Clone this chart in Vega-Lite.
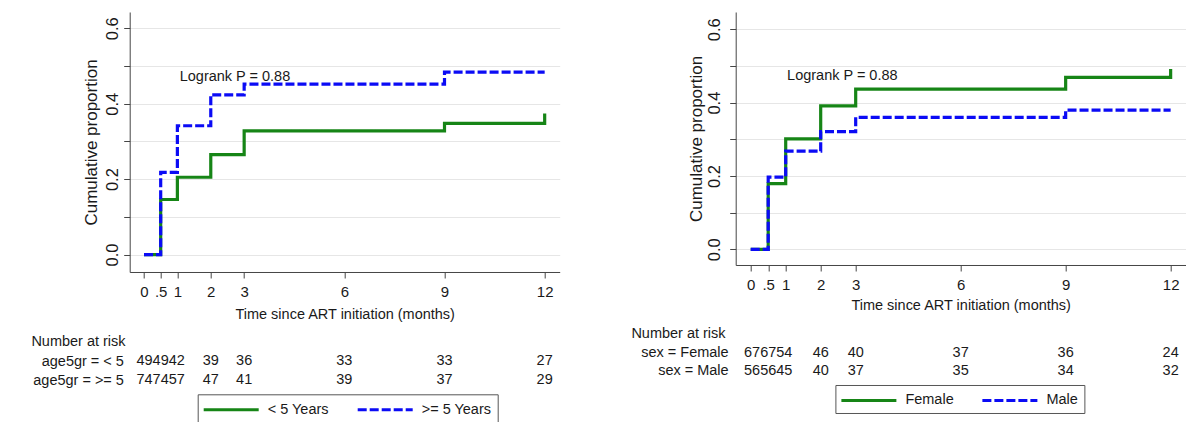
{
  "$schema": "https://vega.github.io/schema/vega-lite/v6.json",
  "background": "white",
  "padding": {"left": 30.7, "top": 12, "right": 0, "bottom": 0},
  "config": {
    "font": "Liberation Sans",
    "view": {"stroke": null},
    "axis": {
      "labelFont": "Liberation Sans",
      "titleFont": "Liberation Sans",
      "labelColor": "#1a1a1a",
      "titleColor": "#1a1a1a",
      "titleFontWeight": "normal",
      "labelFontSize": 15,
      "titleFontSize": 14.5,
      "domainColor": "#444444",
      "tickColor": "#444444",
      "gridColor": "#e6e6e6",
      "labelFlush": false,
      "labelOverlap": false
    },
    "axisY": {
      "labelFontSize": 16.5,
      "titleFontSize": 17
    },
    "title": {"font": "Liberation Sans", "fontWeight": "normal", "fontSize": 14.5, "color": "#1a1a1a"},
    "legend": {
      "labelFont": "Liberation Sans",
      "labelFontSize": 14.5,
      "labelColor": "#1a1a1a"
    }
  },
  "datasets": {
    "curves": [
      {"panel": "age", "grp": "< 5 Years", "t": 0, "p": 0},
      {"panel": "age", "grp": "< 5 Years", "t": 0.5, "p": 0.146},
      {"panel": "age", "grp": "< 5 Years", "t": 1, "p": 0.205},
      {"panel": "age", "grp": "< 5 Years", "t": 2, "p": 0.265},
      {"panel": "age", "grp": "< 5 Years", "t": 3, "p": 0.328},
      {"panel": "age", "grp": "< 5 Years", "t": 9, "p": 0.348},
      {"panel": "age", "grp": "< 5 Years", "t": 12, "p": 0.374},
      {"panel": "age", "grp": ">= 5 Years", "t": 0, "p": 0},
      {"panel": "age", "grp": ">= 5 Years", "t": 0.5, "p": 0.218},
      {"panel": "age", "grp": ">= 5 Years", "t": 1, "p": 0.3415},
      {"panel": "age", "grp": ">= 5 Years", "t": 2, "p": 0.4235},
      {"panel": "age", "grp": ">= 5 Years", "t": 3, "p": 0.452},
      {"panel": "age", "grp": ">= 5 Years", "t": 9, "p": 0.4835},
      {"panel": "age", "grp": ">= 5 Years", "t": 12, "p": 0.4835},
      {"panel": "sex", "grp": "Female", "t": 0, "p": 0},
      {"panel": "sex", "grp": "Female", "t": 0.5, "p": 0.179},
      {"panel": "sex", "grp": "Female", "t": 1, "p": 0.301},
      {"panel": "sex", "grp": "Female", "t": 2, "p": 0.391},
      {"panel": "sex", "grp": "Female", "t": 3, "p": 0.437},
      {"panel": "sex", "grp": "Female", "t": 9, "p": 0.469},
      {"panel": "sex", "grp": "Female", "t": 12, "p": 0.492},
      {"panel": "sex", "grp": "Male", "t": 0, "p": 0},
      {"panel": "sex", "grp": "Male", "t": 0.5, "p": 0.197},
      {"panel": "sex", "grp": "Male", "t": 1, "p": 0.2675},
      {"panel": "sex", "grp": "Male", "t": 2, "p": 0.321},
      {"panel": "sex", "grp": "Male", "t": 3, "p": 0.36},
      {"panel": "sex", "grp": "Male", "t": 9, "p": 0.3795},
      {"panel": "sex", "grp": "Male", "t": 12, "p": 0.3795}
    ],
    "notes": [
      {"panel": "age", "t": 1.07, "p": 0.4715, "label": "Logrank P = 0.88"},
      {"panel": "sex", "t": 1.04, "p": 0.4726, "label": "Logrank P = 0.88"}
    ],
    "risk": [
      {"panel": "age", "row": "age5gr = < 5", "t": 0.5, "n": 494942},
      {"panel": "age", "row": "age5gr = < 5", "t": 2, "n": 39},
      {"panel": "age", "row": "age5gr = < 5", "t": 3, "n": 36},
      {"panel": "age", "row": "age5gr = < 5", "t": 6, "n": 33},
      {"panel": "age", "row": "age5gr = < 5", "t": 9, "n": 33},
      {"panel": "age", "row": "age5gr = < 5", "t": 12, "n": 27},
      {"panel": "age", "row": "age5gr = >= 5", "t": 0.5, "n": 747457},
      {"panel": "age", "row": "age5gr = >= 5", "t": 2, "n": 47},
      {"panel": "age", "row": "age5gr = >= 5", "t": 3, "n": 41},
      {"panel": "age", "row": "age5gr = >= 5", "t": 6, "n": 39},
      {"panel": "age", "row": "age5gr = >= 5", "t": 9, "n": 37},
      {"panel": "age", "row": "age5gr = >= 5", "t": 12, "n": 29},
      {"panel": "sex", "row": "sex = Female", "t": 0.5, "n": 676754},
      {"panel": "sex", "row": "sex = Female", "t": 2, "n": 46},
      {"panel": "sex", "row": "sex = Female", "t": 3, "n": 40},
      {"panel": "sex", "row": "sex = Female", "t": 6, "n": 37},
      {"panel": "sex", "row": "sex = Female", "t": 9, "n": 36},
      {"panel": "sex", "row": "sex = Female", "t": 12, "n": 24},
      {"panel": "sex", "row": "sex = Male", "t": 0.5, "n": 565645},
      {"panel": "sex", "row": "sex = Male", "t": 2, "n": 40},
      {"panel": "sex", "row": "sex = Male", "t": 3, "n": 37},
      {"panel": "sex", "row": "sex = Male", "t": 6, "n": 35},
      {"panel": "sex", "row": "sex = Male", "t": 9, "n": 34},
      {"panel": "sex", "row": "sex = Male", "t": 12, "n": 32}
    ]
  },
  "spacing": 71,
  "resolve": {
    "scale": {"color": "independent", "strokeDash": "independent", "x": "independent", "y": "independent"},
    "legend": {"color": "independent", "strokeDash": "independent"}
  },
  "hconcat": [
    {
      "spacing": 80,
      "bounds": "flush",
      "resolve": {
        "scale": {"x": "independent", "y": "independent"},
        "legend": {"color": "independent", "strokeDash": "independent"}
      },
      "vconcat": [
        {
          "width": 430,
          "height": 260,
          "layer": [
            {
              "data": {"name": "notes"},
              "transform": [{"filter": "datum.panel == 'age'"}],
              "mark": {"type": "text", "align": "left", "baseline": "middle", "fontSize": 14.5, "color": "#1a1a1a"},
              "encoding": {
                "x": {"field": "t", "type": "quantitative", "scale": {"domain": [-0.428, 12.45], "nice": false, "zero": false}},
                "y": {"field": "p", "type": "quantitative", "scale": {"domain": [-0.0462, 0.643], "nice": false, "zero": false}},
                "text": {"field": "label"}
              }
            },
            {
              "data": {"name": "curves"},
              "transform": [{"filter": "datum.panel == 'age'"}],
              "mark": {"type": "line", "interpolate": "step-after", "strokeWidth": 3.2},
              "encoding": {
                "x": {
                  "field": "t", "type": "quantitative",
                  "scale": {"domain": [-0.428, 12.45], "nice": false, "zero": false},
                  "axis": {
                    "values": [0, 0.5, 1, 2, 3, 6, 9, 12],
                    "labelExpr": "datum.value == 0.5 ? '.5' : format(datum.value, 'd')",
                    "tickSize": 6, "labelPadding": 7, "grid": false,
                    "title": "Time since ART initiation (months)",
                    "titleY": 42.6, "titleBaseline": "middle"
                  }
                },
                "y": {
                  "field": "p", "type": "quantitative",
                  "scale": {"domain": [-0.0462, 0.643], "nice": false, "zero": false},
                  "axis": {
                    "values": [0, 0.1, 0.2, 0.3, 0.4, 0.5, 0.6],
                    "labelExpr": "round(datum.value*10)%2==0 ? format(datum.value,'.1f') : ''",
                    "labelAngle": 270, "labelAlign": "center", "labelBaseline": "middle",
                    "labelPadding": 11, "tickSize": 6, "grid": true,
                    "title": "Cumulative proportion",
                    "titleX": -38.1, "titleY": 130, "titleAngle": 270,
                    "titleAlign": "center", "titleBaseline": "middle"
                  }
                },
                "color": {
                  "field": "grp", "type": "nominal",
                  "scale": {"domain": ["< 5 Years", ">= 5 Years"], "range": ["#168516", "#0b0bf5"]},
                  "legend": {
                    "orient": "none", "legendX": 68, "legendY": 382.3, "direction": "horizontal",
                    "title": null, "symbolType": "M-1.1875,0H5.6875", "symbolSize": 256,
                    "symbolStrokeWidth": 3, "symbolFillColor": "transparent", "labelOffset": 45,
                    "columnPadding": 22, "padding": 6, "strokeColor": "#555555", "fillColor": "white"
                  }
                },
                "strokeDash": {
                  "field": "grp", "type": "nominal",
                  "scale": {"domain": ["< 5 Years", ">= 5 Years"], "range": [[1, 0], [9, 3]]},
                  "legend": {
                    "orient": "none", "legendX": 68, "legendY": 382.3, "direction": "horizontal",
                    "title": null, "symbolType": "M-1.1875,0H5.6875", "symbolSize": 256,
                    "symbolStrokeWidth": 3, "symbolFillColor": "transparent", "labelOffset": 45,
                    "columnPadding": 22, "padding": 6, "strokeColor": "#555555", "fillColor": "white"
                  }
                }
              }
            }
          ]
        },
        {
          "width": 430,
          "height": 38,
          "data": {"name": "risk"},
          "transform": [{"filter": "datum.panel == 'age'"}],
          "title": {"text": "Number at risk", "anchor": "start", "frame": "group", "dx": -98.3, "dy": 14, "offset": 2.6, "baseline": "bottom"},
          "mark": {"type": "text", "fontSize": 14.5, "color": "#1a1a1a", "baseline": "middle"},
          "encoding": {
            "x": {"field": "t", "type": "quantitative", "scale": {"domain": [-0.428, 12.45], "nice": false, "zero": false}, "axis": null},
            "y": {
              "field": "row", "type": "nominal", "sort": ["age5gr = < 5", "age5gr = >= 5"],
              "scale": {"type": "point", "padding": 0.5},
              "axis": {"title": null, "ticks": false, "domain": false, "grid": false, "labelPadding": 6.3, "labelFontSize": 14.5, "labelAngle": 0}
            },
            "text": {"field": "n", "type": "quantitative", "format": "d"}
          }
        }
      ]
    },
    {
      "spacing": 79,
      "bounds": "flush",
      "resolve": {
        "scale": {"x": "independent", "y": "independent"},
        "legend": {"color": "independent", "strokeDash": "independent"}
      },
      "vconcat": [
        {
          "width": 450,
          "height": 253,
          "layer": [
            {
              "data": {"name": "notes"},
              "transform": [{"filter": "datum.panel == 'sex'"}],
              "mark": {"type": "text", "align": "left", "baseline": "middle", "fontSize": 14.5, "color": "#1a1a1a"},
              "encoding": {
                "x": {"field": "t", "type": "quantitative", "scale": {"domain": [-0.429, 12.43], "nice": false, "zero": false}},
                "y": {"field": "p", "type": "quantitative", "scale": {"domain": [-0.0428, 0.6471], "nice": false, "zero": false}},
                "text": {"field": "label"}
              }
            },
            {
              "data": {"name": "curves"},
              "transform": [{"filter": "datum.panel == 'sex'"}],
              "mark": {"type": "line", "interpolate": "step-after", "strokeWidth": 3.2},
              "encoding": {
                "x": {
                  "field": "t", "type": "quantitative",
                  "scale": {"domain": [-0.429, 12.43], "nice": false, "zero": false},
                  "axis": {
                    "values": [0, 0.5, 1, 2, 3, 6, 9, 12],
                    "labelExpr": "datum.value == 0.5 ? '.5' : format(datum.value, 'd')",
                    "tickSize": 6, "labelPadding": 6.3, "grid": false,
                    "title": "Time since ART initiation (months)",
                    "titleY": 41, "titleBaseline": "middle"
                  }
                },
                "y": {
                  "field": "p", "type": "quantitative",
                  "scale": {"domain": [-0.0428, 0.6471], "nice": false, "zero": false},
                  "axis": {
                    "values": [0, 0.1, 0.2, 0.3, 0.4, 0.5, 0.6],
                    "labelExpr": "round(datum.value*10)%2==0 ? format(datum.value,'.1f') : ''",
                    "labelAngle": 270, "labelAlign": "center", "labelBaseline": "middle",
                    "labelPadding": 15, "tickSize": 6, "grid": true,
                    "title": "Cumulative proportion",
                    "titleX": -39.6, "titleY": 126.5, "titleAngle": 270,
                    "titleAlign": "center", "titleBaseline": "middle"
                  }
                },
                "color": {
                  "field": "grp", "type": "nominal",
                  "scale": {"domain": ["Female", "Male"], "range": ["#168516", "#0b0bf5"]},
                  "legend": {
                    "orient": "none", "legendX": 99.7, "legendY": 373, "direction": "horizontal",
                    "title": null, "symbolType": "M-1.1875,0H5.6875", "symbolSize": 256,
                    "symbolStrokeWidth": 3, "symbolFillColor": "transparent", "labelOffset": 45,
                    "columnPadding": 22, "padding": 6, "strokeColor": "#555555", "fillColor": "white"
                  }
                },
                "strokeDash": {
                  "field": "grp", "type": "nominal",
                  "scale": {"domain": ["Female", "Male"], "range": [[1, 0], [9, 3]]},
                  "legend": {
                    "orient": "none", "legendX": 99.7, "legendY": 373, "direction": "horizontal",
                    "title": null, "symbolType": "M-1.1875,0H5.6875", "symbolSize": 256,
                    "symbolStrokeWidth": 3, "symbolFillColor": "transparent", "labelOffset": 45,
                    "columnPadding": 22, "padding": 6, "strokeColor": "#555555", "fillColor": "white"
                  }
                }
              }
            }
          ]
        },
        {
          "width": 450,
          "height": 36,
          "data": {"name": "risk"},
          "transform": [{"filter": "datum.panel == 'sex'"}],
          "title": {"text": "Number at risk", "anchor": "start", "frame": "group", "dx": -104.3, "dy": 14, "offset": 2.3, "baseline": "bottom"},
          "mark": {"type": "text", "fontSize": 14.5, "color": "#1a1a1a", "baseline": "middle"},
          "encoding": {
            "x": {"field": "t", "type": "quantitative", "scale": {"domain": [-0.429, 12.43], "nice": false, "zero": false}, "axis": null},
            "y": {
              "field": "row", "type": "nominal", "sort": ["sex = Female", "sex = Male"],
              "scale": {"type": "point", "padding": 0.5},
              "axis": {"title": null, "ticks": false, "domain": false, "grid": false, "labelPadding": 7.6, "labelFontSize": 14.5, "labelAngle": 0}
            },
            "text": {"field": "n", "type": "quantitative", "format": "d"}
          }
        }
      ]
    }
  ]
}
